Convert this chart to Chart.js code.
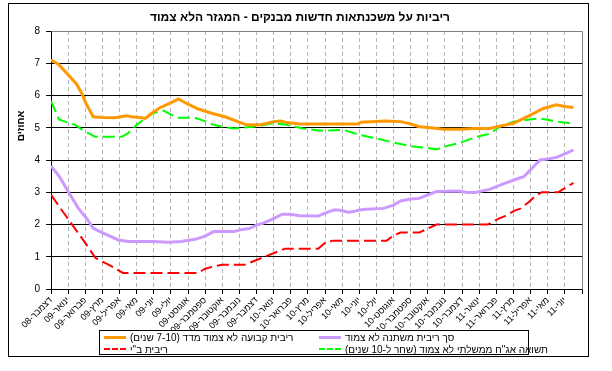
<!DOCTYPE html>
<html>
<head>
<meta charset="utf-8">
<script src="https://cdn.jsdelivr.net/npm/chart.js@4.4.1/dist/chart.umd.min.js"></script>
<style>
  html, body { margin:0; padding:0; background:#fff; }
  #wrap { position:relative; width:612px; height:371px; background:#fff; overflow:hidden; }
  #c { position:absolute; left:0; top:0; }
  #frame { position:absolute; left:8px; top:3px; width:581px; height:354px; border:1px solid #000; box-sizing:border-box; pointer-events:none; }
  #title { position:absolute; left:300px; top:17px; transform:translate(-50%,-50%); font:bold 12px Arial, "Liberation Sans", "DejaVu Sans", sans-serif; white-space:nowrap; color:#000; }
  #ylabel { position:absolute; left:20px; top:126px; transform:translate(-50%,-50%) rotate(-90deg); font:bold 10px Arial, "Liberation Sans", "DejaVu Sans", sans-serif; white-space:nowrap; color:#000; }
  #legend { position:absolute; left:99px; top:330px; width:430px; height:25px; border:1px solid #000; box-sizing:border-box; background:#fff; font:10px Arial, "Liberation Sans", "DejaVu Sans", sans-serif; color:#000; }
  .sw { position:absolute; height:0; width:22px; }
  .lt { position:absolute; white-space:nowrap; line-height:12px; }
</style>
</head>
<body>
<div id="wrap">
  <canvas id="c" width="612" height="371"></canvas>
  <div id="frame"></div>
  <div id="title" dir="rtl">ריביות על משכנתאות חדשות מבנקים - המגזר הלא צמוד</div>
  <div id="ylabel" dir="rtl">אחוזים</div>
  <div id="legend"></div>
</div>
<script>
// ---- tick labels (months; x value = months since Dec-08) ----
const monthLabels = [
  'דצמבר-08','ינואר-09','פברואר-09','מרץ-09','אפריל-09','מאי-09','יוני-09','יולי-09',
  'אוגוסט-09','ספטמבר-09','אוקטובר-09','נובמבר-09','דצמבר-09','ינואר-10','פברואר-10',
  'מרץ-10','אפריל-10','מאי-10','יוני-10','יולי-10','אוגוסט-10','ספטמבר-10','אוקטובר-10',
  'נובמבר-10','דצמבר-10','ינואר-11','פברואר-11','מרץ-11','אפריל-11','מאי-11','יוני-11'
];
const yTicks = [0,1,2,3,4,5,6,7,8];

// ---- series: [month, percent] ----
const fixedRate = [
  [0,7.10],[0.43,6.97],[0.92,6.69],[1.5,6.35],[1.79,6.07],[2.08,5.71],[2.47,5.34],[3.0,5.32],
  [3.74,5.31],[4.42,5.37],[4.7,5.34],[5.3,5.31],[5.5,5.29],[5.88,5.45],[6.36,5.62],[6.95,5.76],
  [7.43,5.89],[8.0,5.73],[8.6,5.58],[9.38,5.45],[10.16,5.34],[11.4,5.09],[12.2,5.09],[13.0,5.19],
  [13.4,5.21],[13.8,5.16],[14.5,5.12],[15.7,5.12],[17.9,5.12],[18.1,5.17],[19.5,5.21],[20.4,5.19],
  [21.0,5.12],[21.5,5.03],[22.3,4.99],[22.9,4.95],[23.9,4.95],[24.7,4.98],[25.6,4.98],[26.2,5.05],
  [27.0,5.14],[27.6,5.29],[28.2,5.45],[28.7,5.59],[29.5,5.71],[29.9,5.67],[30.5,5.63]
];
const variableRate = [
  [0,3.82],[0.5,3.48],[1.0,3.02],[1.6,2.50],[2.08,2.19],[2.47,1.88],[3.05,1.73],[3.93,1.52],
  [4.5,1.47],[5.9,1.47],[6.85,1.45],[7.6,1.47],[8.4,1.54],[9.0,1.64],[9.5,1.78],[10.7,1.78],
  [11.0,1.83],[11.6,1.88],[12.0,1.98],[12.4,2.04],[12.9,2.16],[13.5,2.32],[13.95,2.32],[14.5,2.27],
  [15.6,2.26],[16.0,2.35],[16.5,2.45],[16.8,2.45],[17.36,2.38],[17.65,2.40],[18.0,2.45],[18.4,2.47],
  [19.4,2.50],[20.0,2.60],[20.4,2.73],[21.0,2.79],[21.5,2.81],[22.5,3.02],[23.8,3.04],[24.3,2.99],
  [24.75,2.99],[25.6,3.09],[26.4,3.26],[27.4,3.45],[27.6,3.48],[28.55,4.00],[28.9,4.02],[29.5,4.08],
  [30.1,4.21],[30.5,4.31]
];
const boiRate = [
  [0,2.92],[1.0,2.17],[2.0,1.43],[2.6,0.96],[3.3,0.77],[4.2,0.50],[8.6,0.50],[9.0,0.63],[9.5,0.70],
  [10.0,0.75],[11.3,0.75],[13.65,1.25],[15.6,1.25],[16.05,1.46],[16.5,1.50],[19.6,1.50],[20.0,1.66],
  [20.4,1.75],[21.5,1.75],[22.5,2.00],[25.5,2.00],[26.2,2.20],[26.5,2.26],[27.1,2.44],[27.4,2.49],
  [27.9,2.70],[28.2,2.85],[28.65,3.00],[29.6,3.00],[30.0,3.13],[30.5,3.29]
];
const govBondYield = [
  [0,5.83],[0.23,5.55],[0.47,5.26],[0.82,5.19],[1.4,5.09],[1.8,4.95],[2.18,4.83],[2.57,4.72],
  [4.13,4.72],[4.5,4.83],[5.0,5.09],[5.5,5.29],[5.97,5.45],[6.56,5.53],[6.95,5.42],[7.43,5.31],
  [8.4,5.31],[8.9,5.22],[9.5,5.09],[10.2,5.01],[10.65,4.98],[11.8,5.03],[13.0,5.14],[13.76,5.09],
  [14.7,4.98],[15.7,4.91],[17.1,4.93],[18.0,4.78],[19.0,4.67],[20.0,4.54],[21.0,4.43],[21.9,4.38],
  [22.5,4.33],[23.1,4.43],[23.9,4.54],[24.85,4.72],[25.6,4.81],[26.2,5.03],[27.0,5.19],[28.2,5.27],
  [28.5,5.29],[29.3,5.22],[29.9,5.16],[30.5,5.14]
];
const seriesNames = [
  'ריבית קבועה לא צמוד מדד (7-10 שנים)',
  'סך ריבית משתנה לא צמוד',
  'ריבית ב"י',
  'תשואה אג"ח ממשלתי לא צמוד (שחר ל-10 שנים)'
];

const toXY = arr => arr.map(p => ({x: p[0], y: p[1]}));
const FONT = 'Arial, "Liberation Sans", "DejaVu Sans", sans-serif';

const plotFrame = {
  id: 'plotFrame',
  beforeDatasetsDraw(chart) {
    const a = chart.chartArea, ctx = chart.ctx;
    ctx.save();
    ctx.strokeStyle = '#808080';
    ctx.lineWidth = 1;
    ctx.beginPath();
    ctx.moveTo(Math.round(a.left) + 0.5, Math.round(a.top) + 0.5);
    ctx.lineTo(Math.round(a.right) + 0.5, Math.round(a.top) + 0.5);
    ctx.lineTo(Math.round(a.right) + 0.5, Math.round(a.bottom) + 0.5);
    ctx.stroke();
    ctx.restore();
  }
};

const chart = new Chart(document.getElementById('c'), {
  type: 'line',
  data: {
    datasets: [
      { label: seriesNames[0], data: toXY(fixedRate), borderColor: '#FF9900', borderWidth: 3 },
      { label: seriesNames[1], data: toXY(variableRate), borderColor: '#CC99FF', borderWidth: 3 },
      { label: seriesNames[2], data: toXY(boiRate), borderColor: '#FF0000', borderWidth: 2, borderDash: [12, 5] },
      { label: seriesNames[3], data: toXY(govBondYield), borderColor: '#00FF00', borderWidth: 2, borderDash: [12, 5] }
    ]
  },
  options: {
    responsive: false,
    animation: false,
    devicePixelRatio: 1,
    layout: { padding: { left: 0, top: 31, right: 30, bottom: 0 } },
    elements: { point: { radius: 0 }, line: { tension: 0, fill: false } },
    plugins: { legend: { display: false }, tooltip: { enabled: false }, title: { display: false } },
    scales: {
      x: {
        type: 'linear', min: 0, max: 31,
        afterFit(s) { s.height = 82; },
        afterBuildTicks(s) { s.ticks = Array.from({length: 32}, (_, i) => ({value: i})); },
        ticks: {
          stepSize: 1, autoSkip: false, minRotation: 45, maxRotation: 45, padding: 1,
          color: '#000', font: { family: FONT, size: 9 },
          callback: v => monthLabels[v] !== undefined ? monthLabels[v] : ''
        },
        grid: {
          color: c => (c.tick && (c.tick.value === 0 || c.tick.value === 31)) ? 'rgba(0,0,0,0)' : '#b4b4b4',
          lineWidth: 1, tickColor: '#000', tickLength: 5, drawTicks: true
        },
        border: { display: true, color: '#000', width: 1, dash: [4, 3] }
      },
      y: {
        type: 'linear', min: 0, max: 8,
        afterFit(s) { s.width = 51; },
        afterBuildTicks(s) { s.ticks = yTicks.map(v => ({value: v})); },
        ticks: { stepSize: 1, padding: 6, color: '#000', font: { family: FONT, size: 10 } },
        grid: {
          color: c => (c.tick && c.tick.value === 8) ? 'rgba(0,0,0,0)' : '#000',
          lineWidth: 1, tickColor: '#000', tickLength: 5, drawTicks: true
        },
        border: { display: true, color: '#000', width: 1 }
      }
    }
  },
  plugins: [plotFrame]
});

// ---- HTML legend built from the datasets ----
(function buildLegend() {
  const lg = document.getElementById('legend');
  const slots = [[4, 1], [219, 1], [4, 13], [219, 13]];
  chart.data.datasets.forEach((ds, i) => {
    const [lx, ly] = slots[i];
    const sw = document.createElement('div');
    sw.className = 'sw';
    sw.style.left = lx + 'px';
    sw.style.top = (ly + 5 - Math.floor(ds.borderWidth / 2)) + 'px';
    sw.style.borderTop = ds.borderWidth + 'px ' + (ds.borderDash ? 'dashed ' : 'solid ') + ds.borderColor;
    lg.appendChild(sw);
    const t = document.createElement('div');
    t.className = 'lt';
    t.dir = 'rtl';
    t.style.left = (lx + 26) + 'px';
    t.style.top = ly + 'px';
    t.textContent = ds.label;
    lg.appendChild(t);
  });
})();
</script>
</body>
</html>
